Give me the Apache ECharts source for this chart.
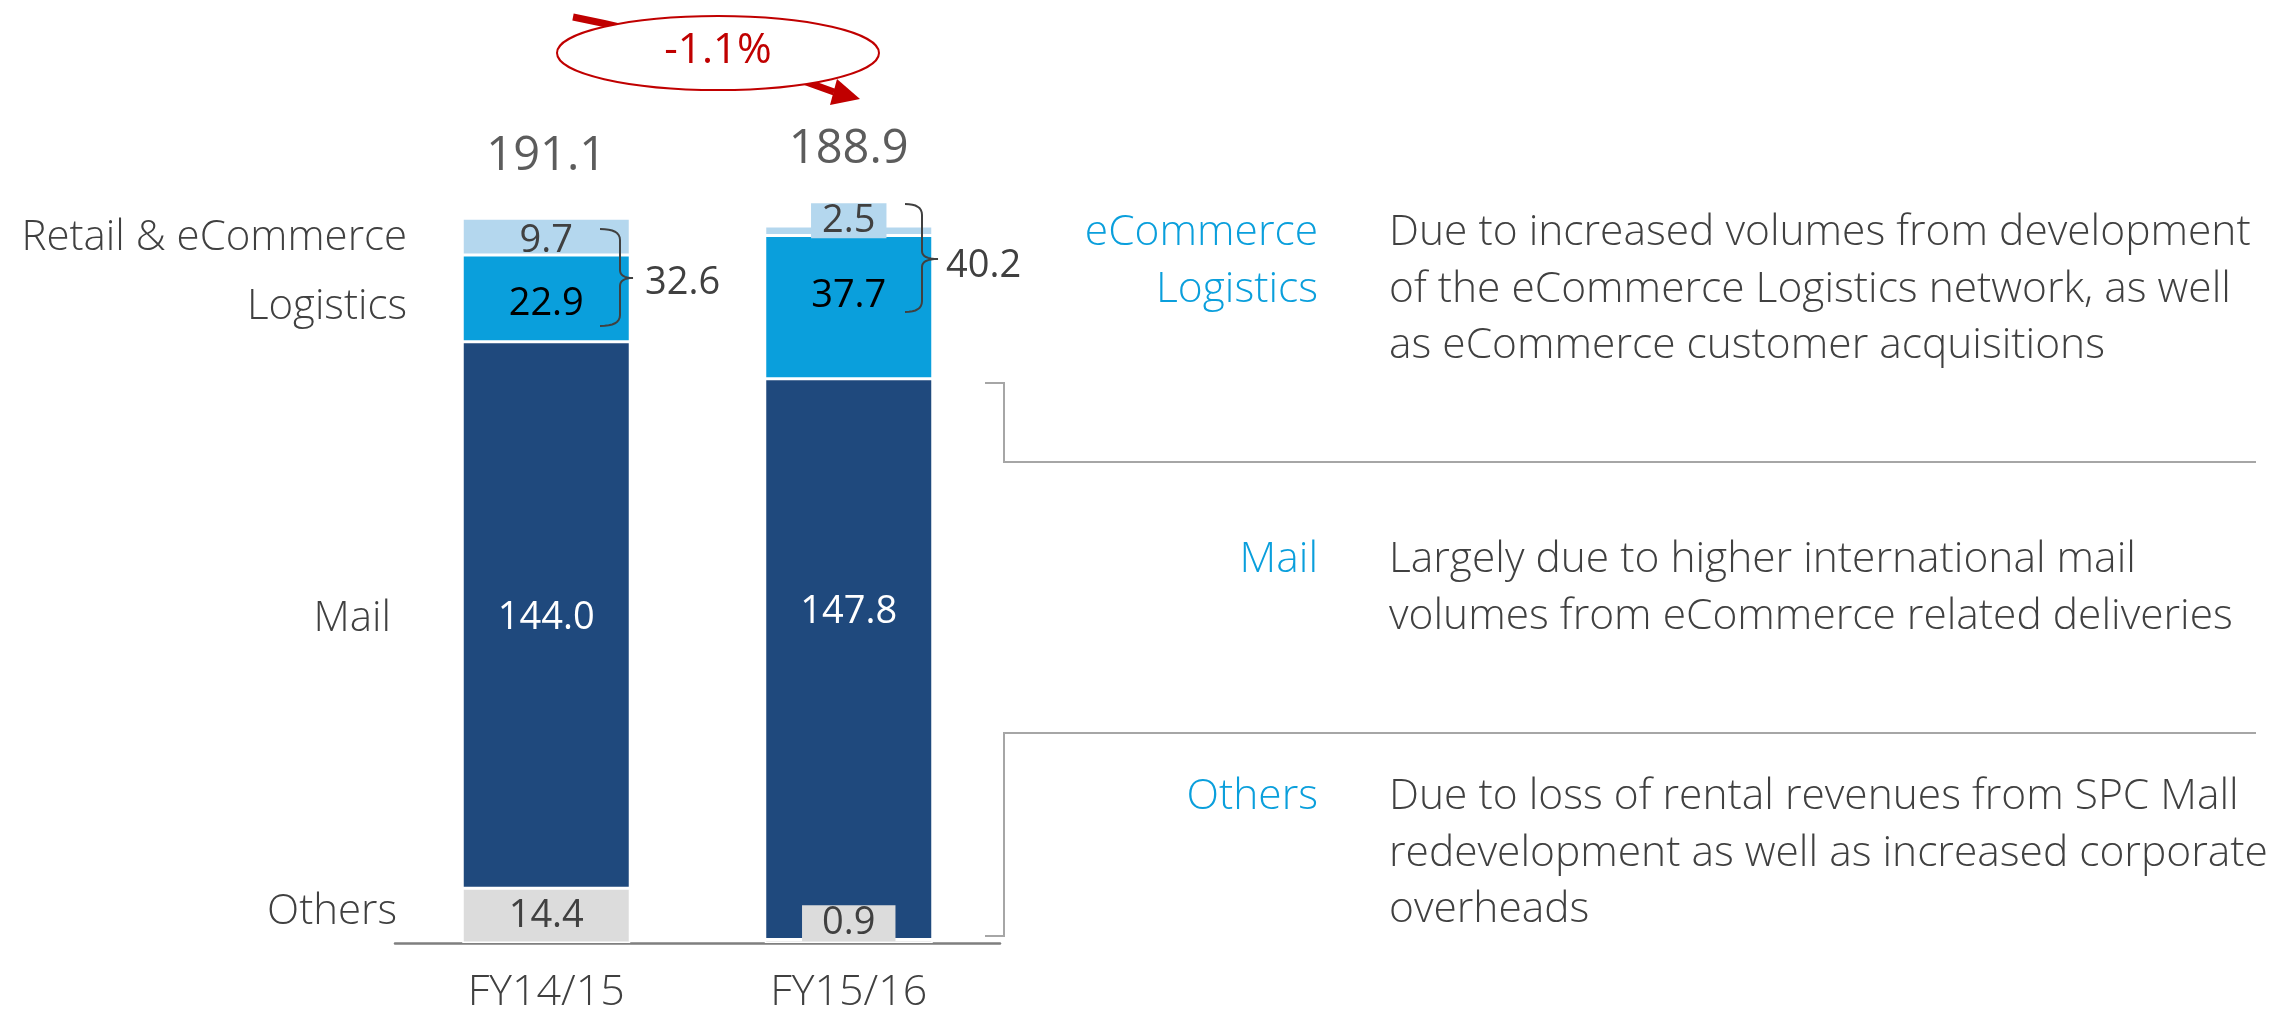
<!DOCTYPE html>
<html><head><meta charset="utf-8">
<script src="https://cdn.jsdelivr.net/npm/echarts@6/dist/echarts.min.js"></script>
<style>html,body{margin:0;padding:0;background:#fff}#c{width:2274px;height:1014px}</style>
</head><body><div id="c"></div>
<script>
// ---- data ----
const categories = ['FY14/15', 'FY15/16'];
const others = [14.4, 0.9];
const mail = [144.0, 147.8];
const logistics = [22.9, 37.7];
const retail = [9.7, 2.5];
const totals = [191.1, 188.9];
const ecomLogTotals = [32.6, 40.2];
const changeLabel = '-1.1%';
const segmentNames = ['Retail & eCommerce', 'Logistics', 'Mail', 'Others'];
const noteHeads = [['eCommerce', 'Logistics'], ['Mail'], ['Others']];
const noteBodies = [
  ['Due to increased volumes from development', 'of the eCommerce Logistics network, as well', 'as eCommerce customer acquisitions'],
  ['Largely due to higher international mail', 'volumes from eCommerce related deliveries'],
  ['Due to loss of rental revenues from SPC Mall', 'redevelopment as well as increased corporate', 'overheads']
];

// ---- style ----
const FONT = "'Open Sans', sans-serif";
const TXT = '#404040';
const BLUE = '#0A9FDC';
const C_RETAIL = '#B4D7EE', C_LOG = '#0A9FDC', C_MAIL = '#1F497D', C_OTH = '#DCDCDC';
const RED = '#C00000';

const chart = echarts.init(document.getElementById('c'), null, {renderer: 'canvas'});

function barSeries(name, data, color, labelColor, itemLabels) {
  return {
    name, type: 'bar', stack: 'total', barWidth: 168,
    itemStyle: {color, borderColor: '#fff', borderWidth: 1.5},
    label: {show: true, position: 'inside', color: labelColor, fontFamily: FONT, fontSize: 38, fontWeight: 400,
      formatter: p => p.value.toFixed(1)},
    data: data.map((v, i) => itemLabels && itemLabels[i] ? {value: v, label: itemLabels[i]} : v),
    emphasis: {disabled: true}
  };
}

const vText = (x, y, text, opt) => ({type: 'text', x, y, silent: true, z: 50,
  style: Object.assign({text, font: '300 42.5px ' + FONT, fill: TXT, align: 'left', verticalAlign: 'middle'}, opt || {})});
const stroke = (c, w) => ({stroke: c, lineWidth: w, fill: null});

function bracket(xL, xV, xT, yTop, yMid, yBot) {
  const r = 11, k = 8;
  const pts = [];
  const quad = (x0, y0, cx, cy, x1, y1) => {
    for (let t = 0; t <= 1.0001; t += 0.125) {
      const a = (1 - t) * (1 - t), b = 2 * (1 - t) * t, c = t * t;
      pts.push([a * x0 + b * cx + c * x1, a * y0 + b * cy + c * y1]);
    }
  };
  quad(xL, yTop, xV, yTop, xV, yTop + r);
  pts.push([xV, yMid - k]);
  quad(xV, yMid - k, xV, yMid, xT, yMid);
  quad(xT, yMid, xV, yMid, xV, yMid + k);
  pts.push([xV, yBot - r]);
  quad(xV, yBot - r, xV, yBot, xL, yBot);
  return {type: 'polyline', silent: true, z: 50, shape: {points: pts}, style: stroke(TXT, 2)};
}

const graphics = [];
// arrow behind ellipse
graphics.push({type: 'bezierCurve', silent: true, z: 40, shape: {x1: 573, y1: 17, cpx1: 700, cpy1: 42, x2: 834, y2: 92}, style: stroke(RED, 7)});
graphics.push({type: 'polygon', silent: true, z: 40, shape: {points: [[837, 79], [860, 99], [830, 105]]}, style: {fill: RED}});
graphics.push({type: 'ellipse', silent: true, z: 45, shape: {cx: 718, cy: 53, rx: 161, ry: 37}, style: {fill: '#fff', stroke: RED, lineWidth: 2}});
graphics.push(vText(718, 51, changeLabel, {font: '400 42px ' + FONT, fill: RED, align: 'center'}));

// left segment labels
const leftPos = [[407, 238], [407, 307], [391, 619], [397, 912]];
segmentNames.forEach((n, i) => graphics.push(vText(leftPos[i][0], leftPos[i][1], n, {align: 'right', font: '300 42px ' + FONT})));

// brackets (drawn over the right edge of the bars)
graphics.push(bracket(600, 620, 633, 229, 278, 326));
graphics.push(bracket(905, 922, 938, 204, 259, 312));
graphics.push(vText(645, 283, ecomLogTotals[0].toFixed(1), {font: '400 38px ' + FONT}));
graphics.push(vText(946, 266, ecomLogTotals[1].toFixed(1), {font: '400 38px ' + FONT}));

// connectors
graphics.push({type: 'polyline', silent: true, z: 50, shape: {points: [[985, 383], [1004, 383], [1004, 462], [2256, 462]]}, style: stroke('#A6A6A6', 2)});
graphics.push({type: 'polyline', silent: true, z: 50, shape: {points: [[2256, 733], [1004, 733], [1004, 936], [985, 936]]}, style: stroke('#A6A6A6', 2)});

// notes
const blockTop = [233, 560, 797];
const LH = 56.5;
noteHeads.forEach((lines, b) => lines.forEach((t, j) => graphics.push(vText(1318, blockTop[b] + j * LH, t, {align: 'right', fill: BLUE}))));
noteBodies.forEach((lines, b) => lines.forEach((t, j) => graphics.push(vText(1389, blockTop[b] + j * LH, t))));

chart.setOption({
  animation: false,
  backgroundColor: '#fff',
  grid: {left: 395, right: 1274, top: 184, bottom: 65},
  xAxis: {type: 'category', data: categories,
    axisLine: {lineStyle: {color: '#7F7F7F', width: 2.5}}, axisTick: {show: false},
    axisLabel: {color: TXT, fontFamily: FONT, fontSize: 43, fontWeight: 300, margin: 28}},
  yAxis: {type: 'value', min: 0, max: 200, show: false, splitLine: {show: false}},
  series: [
    barSeries('Others', others, C_OTH, TXT, [null, {backgroundColor: C_OTH, padding: [0, 20], lineHeight: 36, offset: [0, -18]}]),
    barSeries('Mail', mail, C_MAIL, '#fff', [{offset: [0, 3]}, {offset: [0, -47]}]),
    barSeries('Logistics', logistics, C_LOG, '#000', [{offset: [0, 6]}, {offset: [0, -11]}]),
    barSeries('Retail & eCommerce', retail, C_RETAIL, TXT, [{offset: [0, 5]}, {backgroundColor: C_RETAIL, padding: [0, 11], lineHeight: 35, offset: [0, -10]}]),
    {type: 'scatter', symbolSize: 0, silent: true, z: 5,
      data: totals.map((v, i) => ({value: [categories[i], v], label: {offset: [0, i === 0 ? -61 : -77]}})),
      label: {show: true, position: 'inside', color: '#333', fontFamily: FONT, fontSize: 47, fontWeight: 400,
        formatter: p => p.value[1].toFixed(1)}}
  ],
  graphic: {elements: graphics}
});
</script></body></html>
